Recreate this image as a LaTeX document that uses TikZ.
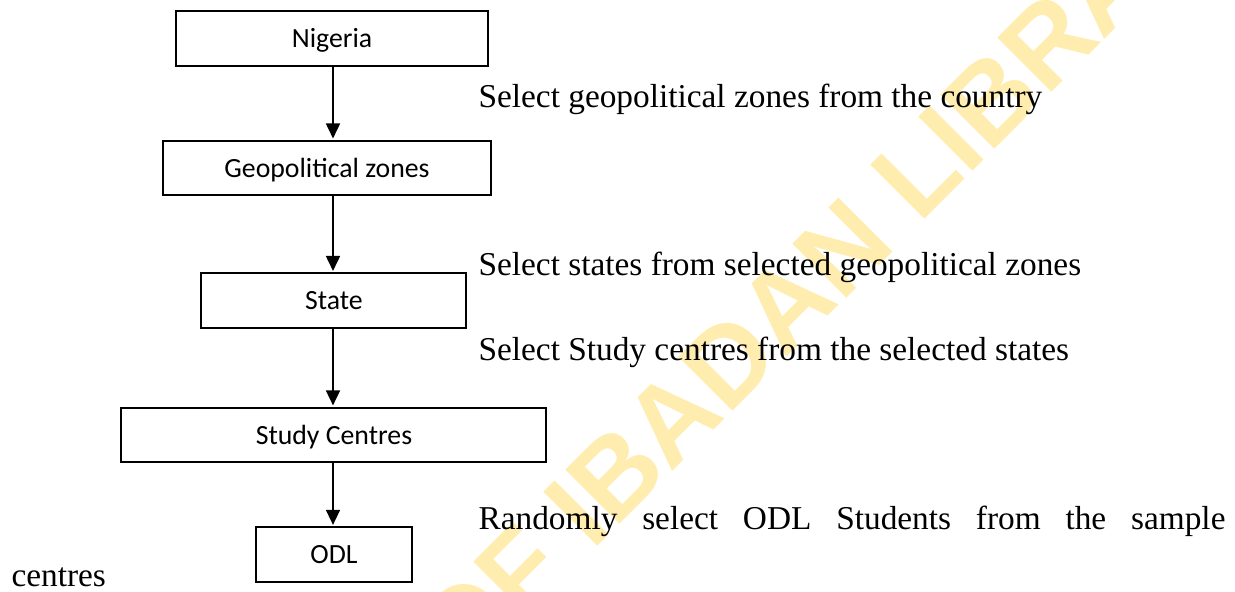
\documentclass[tikz,border=0pt]{standalone}
\usepackage{fontspec}
\setmainfont{Liberation Serif}
\newfontfamily\boxfont{Carlito}
\newfontfamily\markfont{Liberation Sans}
\usepackage{tikz}
\usetikzlibrary{positioning,arrows.meta}
\definecolor{markyellow}{RGB}{255,237,176}

\begin{document}
\begin{tikzpicture}[
            x=0.36pt, y=-0.36pt,
            level node/.style={rectangle,draw,line width=0.7pt,font=\boxfont\fontsize{10}{12}\selectfont,minimum height=19.6pt,text height=6.6pt,text depth=0pt,inner sep=0pt,outer sep=0pt},
            note node/.style={anchor=base west,inner sep=0pt,font=\fontsize{12}{14}\selectfont},
            every edge/.style={draw,line width=0.7pt,-{Triangle[length=5.4pt,width=5pt]},shorten >=0.8pt},
        ]
            \useasboundingbox (0,0) rectangle (1235,592);
            \node[rotate=45,inner sep=0pt,text=markyellow,font=\markfont\bfseries\fontsize{40}{40}\selectfont] (watermark) at (590,500) {UNIVERSITY OF IBADAN LIBRARY};

            \node[level node, minimum width=112.3pt] (nigeria) at (332,38.5) {Nigeria};
            \node[level node, minimum width=118.1pt, below=27pt of nigeria, xshift=-1.8pt] (zones) {Geopolitical zones};
            \node[level node, minimum width=95.4pt, below=28.1pt of zones, xshift=2.5pt] (state) {State};
            \node[level node, minimum width=153pt, below=28.8pt of state] (centres) {Study Centres};
            \node[level node, minimum width=56.2pt, below=23.4pt of centres] (odl) {ODL};

            \path (nigeria.south -| 333,0) edge (zones.north -| 333,0);
            \path (zones.south -| 333,0) edge (state.north -| 333,0);
            \path (state.south -| 333,0) edge (centres.north -| 333,0);
            \path (centres.south -| 333,0) edge (odl.north -| 333,0);

            \node[note node] (zones_note) at (478,108) {Select geopolitical zones from the country};
            \node[note node] (state_note) at (478,276) {Select states from selected geopolitical zones};
            \node[note node] (centres_note) at (478,361) {Select Study centres from the selected states};
            \node[note node] (odl_note) at (478,530) {\makebox[268.9pt][s]{Randomly select ODL Students from the sample}};
            \node[note node] (odl_note_end) at (11,587) {centres};
        \end{tikzpicture}
\end{document}
